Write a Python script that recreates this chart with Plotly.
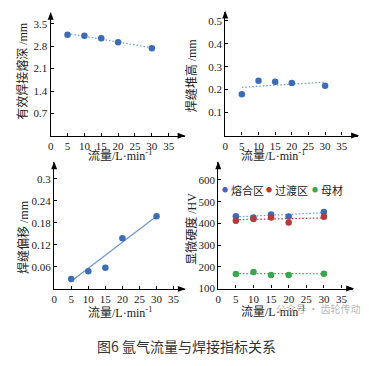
import plotly.graph_objects as go

W, H = 369, 366
OFF = 8  # page body margin offset
FW, FH = W - OFF, H - OFF

flow = [5, 10, 15, 20, 30]
depth = [3.16, 3.13, 3.05, 2.92, 2.74]
height = [0.18, 0.239, 0.234, 0.229, 0.217]
offset = [0.027, 0.048, 0.058, 0.138, 0.198]
hv_fusion = [433, 427, 441, 432, 452]
hv_trans = [412, 420, 427, 404, 430]
hv_base = [167, 176, 162, 162, 168]

trend_x = [5, 30]
depth_trend = [3.2, 2.75]
height_trend = [0.21, 0.233]
offset_trend = [0.021, 0.198]
fusion_trend = [430, 449]
trans_trend = [417, 425]
base_trend = [169, 168]

x_ticks = [0, 5, 10, 15, 20, 25, 30, 35]
depth_ticks = [0.7, 1.4, 2.1, 2.8, 3.5]
height_ticks = [0.1, 0.2, 0.3, 0.4, 0.5]
offset_ticks = [0.06, 0.12, 0.18, 0.24, 0.3]
hv_ticks = [100, 200, 300, 400, 500, 600]

BLUE = "#3b6cb4"
RED = "#b53a3a"
GREEN = "#3aa650"
LBLUE = "#6f98cf"
FONT = "Liberation Serif, Noto Sans CJK SC, serif"
CJK = "Noto Sans CJK SC"


def fx(px):
    return (px - OFF) / FW


def fy(py):
    return 1 - (py - OFF) / FH


panels = [
    dict(px=(48, 183), py=(138, 13), xr=[0, 39.7], yr=[0, 3.84], yt=depth_ticks,
         ytt=["0.7", "1.4", "2.1", "2.8", "3.5"], ytitle="有效焊接熔深 /mm",
         ytx=20, yty=72, xtx=118, xty=158.5),
    dict(px=(224, 358), py=(137.7, 11.7), xr=[0, 39.9], yr=[0, 0.54], yt=height_ticks,
         ytt=["0.1", "0.2", "0.3", "0.4", "0.5"], ytitle="焊缝堆高 /mm",
         ytx=190, yty=76, xtx=272, xty=158.5),
    dict(px=(51.5, 183.3), py=(293.7, 165), xr=[0, 38.3], yr=[0, 0.345], yt=offset_ticks,
         ytt=["0.06", "0.12", "0.18", "0.24", "0.3"], ytitle="焊缝偏移 /mm",
         ytx=20, yty=241, xtx=118, xty=318),
    dict(px=(217, 353), py=(293.3, 165), xr=[0, 38.3], yr=[100, 681], yt=hv_ticks,
         ytt=[str(v) for v in hv_ticks], ytitle="显微硬度 /HV",
         ytx=190, yty=232, xtx=272, xty=317),
]

fig = go.Figure()


def add_pts(i, y, color, trend_y, dash="1.5px,2px"):
    xa = "x" if i == 1 else f"x{i}"
    ya = "y" if i == 1 else f"y{i}"
    fig.add_trace(go.Scatter(x=trend_x, y=trend_y, mode="lines", xaxis=xa, yaxis=ya,
                             line=dict(color=LBLUE if color == BLUE else color, width=1.2, dash=dash),
                             showlegend=False, hoverinfo="skip"))
    fig.add_trace(go.Scatter(x=flow, y=y, mode="markers", xaxis=xa, yaxis=ya,
                             marker=dict(color=color, size=6.5), showlegend=False))


add_pts(1, depth, BLUE, depth_trend)
add_pts(2, height, BLUE, height_trend)
add_pts(3, offset, BLUE, offset_trend, dash="solid")
add_pts(4, hv_fusion, BLUE, fusion_trend)
add_pts(4, hv_trans, RED, trans_trend)
add_pts(4, hv_base, GREEN, base_trend)

layout = dict(width=FW, height=FH, margin=dict(l=0, r=0, t=0, b=0),
              paper_bgcolor="white", plot_bgcolor="white",
              font=dict(family=FONT, size=11, color="#222"))
annotations = []
shapes = []


def P(x, y):
    return f"{fx(x):.5f},{fy(y):.5f}"


for i, p in enumerate(panels, start=1):
    sx = "" if i == 1 else str(i)
    x0, x1 = p["px"]
    y0, y1 = p["py"]
    layout["xaxis" + sx] = dict(domain=[fx(x0), fx(x1)], range=p["xr"], anchor="y" + sx,
                                showline=True, linecolor="black", linewidth=1.2,
                                ticks="inside", ticklen=3, tickcolor="black",
                                tickvals=x_ticks, showgrid=False, zeroline=False,
                                tickfont=dict(size=11, color="#222"))
    layout["yaxis" + sx] = dict(domain=[fy(y0), fy(y1)], range=p["yr"], anchor="x" + sx,
                                showline=True, linecolor="black", linewidth=1.2,
                                ticks="inside", ticklen=3, tickcolor="black",
                                tickvals=p["yt"], ticktext=p["ytt"], showgrid=False, zeroline=False,
                                tickfont=dict(size=11, color="#222"))
    shapes.append(dict(type="path", xref="paper", yref="paper", line=dict(width=0),
                       fillcolor="black",
                       path=f"M{P(x1 + 1, y0)} L{P(x1 - 7, y0 - 3)} L{P(x1 - 7, y0 + 3)} Z"))
    shapes.append(dict(type="path", xref="paper", yref="paper", line=dict(width=0),
                       fillcolor="black",
                       path=f"M{P(x0, y1 - 1)} L{P(x0 - 3, y1 + 7)} L{P(x0 + 3, y1 + 7)} Z"))
    annotations.append(dict(x=fx(p["ytx"]), y=fy(p["yty"]), xref="paper", yref="paper",
                            xanchor="center", yanchor="middle",
                            text=p["ytitle"], textangle=-90, showarrow=False,
                            font=dict(size=12, color="#222")))
    annotations.append(dict(x=fx(p["xtx"]), y=fy(p["xty"]), xref="paper", yref="paper",
                            xanchor="center", yanchor="middle",
                            text="流量/L·min<sup>-1</sup>", showarrow=False,
                            font=dict(size=12, color="#222")))

# legend for panel 4
leg = [("熔合区", BLUE, 224), ("过渡区", RED, 268), ("母材", GREEN, 315)]
for name, col, cx in leg:
    annotations.append(dict(x=fx(cx), y=fy(193), xref="paper", yref="paper",
                            xanchor="center", yanchor="middle",
                            text="●", showarrow=False,
                            font=dict(size=6, color=col, family=CJK)))
    annotations.append(dict(x=fx(cx + 4), y=fy(193), xref="paper", yref="paper",
                            xanchor="left", yanchor="middle",
                            text=name, showarrow=False,
                            font=dict(size=11, color="#222", family=CJK)))

# watermark
annotations.append(dict(x=fx(318), y=fy(314), xref="paper", yref="paper",
                        xanchor="center", yanchor="middle",
                        text="公众号 · 齿轮传动", showarrow=False,
                        font=dict(size=10, color="rgba(150,150,150,0.7)", family=CJK)))

# caption
annotations.append(dict(x=fx(184.5), y=fy(352), xref="paper", yref="paper",
                        xanchor="center", yanchor="middle",
                        text="图6 氩气流量与焊接指标关系", showarrow=False,
                        font=dict(size=14, color="#333", family=CJK)))

layout["annotations"] = annotations
layout["shapes"] = shapes
fig.update_layout(**layout)
fig.write_html("out.html")
